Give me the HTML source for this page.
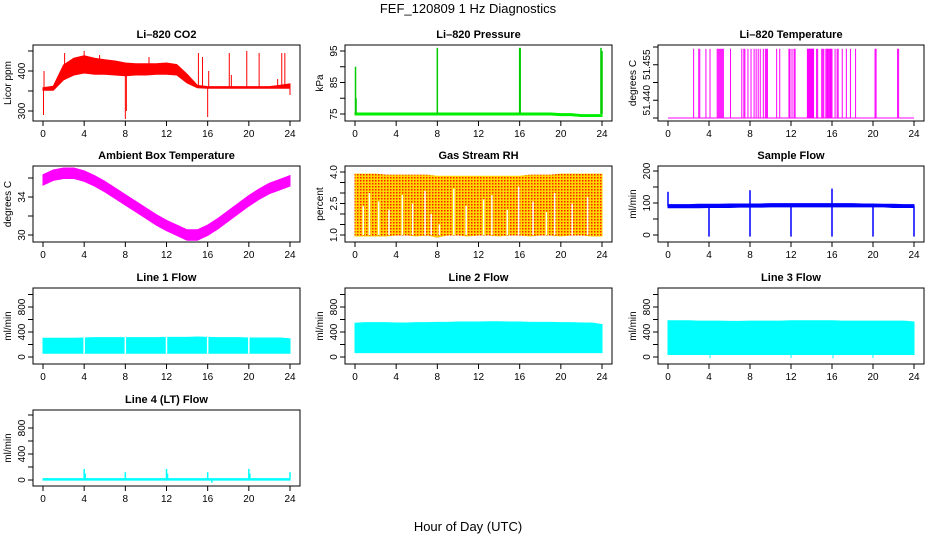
<!DOCTYPE html>
<html><head><meta charset="utf-8"><style>
html,body{margin:0;padding:0;background:#fff;}
svg{display:block;font-family:"Liberation Sans",sans-serif;}
</style></head><body>
<svg id="chart" width="936" height="540" viewBox="0 0 936 540">
<text x="468" y="13" text-anchor="middle" font-size="13">FEF_120809  1 Hz Diagnostics</text>
<text x="468" y="531" text-anchor="middle" font-size="13">Hour of Day (UTC)</text>
</svg>
<script>
// ---------- data ----------
const xTicks = [0,4,8,12,16,20,24];
const hours = [0,1,2,3,4,5,6,7,8,9,10,11,12,13,14,15,16,17,18,19,20,21,22,23,24];

const co2Low  = [352,352,378,390,395,392,392,390,388,390,390,392,392,390,370,358,357,357,357,357,357,357,357,357,357];
const co2High = [358,362,415,432,438,432,428,425,420,418,418,418,420,416,392,364,361,361,361,361,361,361,361,364,368];
const co2SpikeX = [0.05,0.1,2.1,4,5.5,8,8.1,10.3,15.1,15.5,16,16.1,18.1,18.3,19.8,21,22.8,23.2,23.5,24];
const co2SpikeY = [290,400,445,450,440,280,300,435,445,435,285,400,445,390,450,445,380,445,445,340];

const presBase = [75,75,75,75,75,75,75,75,75,75,75,75,75,75,75,75,75,75,75,75,74.8,74.8,74.5,74.5,74.5];
const presSpikeX = [0.05,0.1,8,16,16.05,23.9,24];
const presSpikeY = [90,80,96,96,96,96,95];

const tempBase = 51.44;
const tempSpikeX = [2.5,3.0,3.1,3.7,4.1,4.8,4.9,5.0,5.1,5.2,5.3,5.4,6.1,7.2,7.4,7.5,7.8,8.1,8.4,8.6,8.8,9.0,9.3,9.5,9.6,9.7,10.6,10.9,11.8,11.9,12.1,12.3,12.4,13.6,13.65,13.7,13.75,13.8,13.85,13.9,13.95,14.0,14.05,14.1,14.15,14.2,14.5,14.6,15.0,15.1,15.2,15.4,15.5,15.55,15.6,15.7,15.8,15.85,15.9,16.0,16.3,16.5,16.6,17.0,17.4,17.8,18.3,20.2,20.3,22.4,22.5];
const tempSpikeY = 51.4595;

const ambMid = [35.8,36.3,36.5,36.5,36.2,35.7,35.1,34.4,33.7,33.0,32.3,31.6,31.0,30.5,30.0,30.0,30.5,31.2,32.0,32.8,33.6,34.3,34.9,35.3,35.7];
const ambHalf = 0.55;

const rhTop = [3.9,3.9,3.9,3.85,3.85,3.85,3.85,3.85,3.8,3.8,3.8,3.8,3.8,3.8,3.8,3.8,3.8,3.85,3.85,3.85,3.9,3.9,3.9,3.9,3.9];
const rhBot = [0.95,0.95,0.95,0.95,1.0,1.0,0.95,1.0,0.9,1.0,1.0,0.95,1.0,1.0,0.95,1.0,1.0,0.95,1.0,1.0,0.95,1.0,1.0,0.95,0.95];
const rhGapX = [0.8,1.4,2.3,3.3,4.6,5.6,6.8,7.4,8.2,9.6,10.8,12.5,13.3,14.8,15.9,17.3,18.6,19.4,21.1,22.6];
const rhGapY = [2.4,3.0,2.6,2.2,2.9,2.5,3.1,2.0,1.5,3.2,2.4,2.7,2.9,2.2,3.3,2.6,2.1,3.0,2.5,2.8];

const sfLow  = [85,85,85,85,86,86,86,87,87,87,88,88,88,88,88,88,88,88,88,88,88,88,86,86,86];
const sfHigh = [95,95,95,96,96,96,97,97,97,97,98,98,98,98,98,98,98,98,98,97,97,96,96,95,95];
const sfSpikeX = [0,4,8,8,12,16,16,20,24];
const sfSpikeY = [135,-5,140,-5,-5,145,-5,-5,-5];

const l1Low  = [60,60,60,60,60,60,60,60,60,60,60,60,60,60,60,60,60,60,60,60,60,60,60,60,60];
const l1High = [300,300,300,300,305,310,310,310,310,310,310,310,315,315,315,320,315,310,310,310,305,305,305,305,290];
const l2Low  = [70,70,70,70,70,70,70,70,70,70,70,70,70,70,70,70,70,70,70,70,70,70,70,70,70];
const l2High = [540,550,550,550,545,545,550,550,555,555,560,560,560,565,565,560,560,555,555,555,550,550,545,545,520];
const l3Low  = [40,40,40,40,40,40,40,40,40,40,40,40,40,40,40,40,40,40,40,40,40,40,40,40,40];
const l3High = [580,580,580,575,575,575,570,570,575,575,575,575,580,580,580,580,580,575,575,575,575,575,575,575,560];
const l3SpikeX = [4.1,12.0,16.1,20.0];
const l3SpikeY = [-20,-15,-20,-15];
const gapX = [4,8,12,16,20];

const l4Base = 10;
const l4SpikeX = [4,4.1,8,12,12.1,16,16.4,20,20.1,24];
const l4SpikeY = [170,100,120,170,100,120,-40,170,100,120];

// ---------- drawing ----------
const NS = "http://www.w3.org/2000/svg";
const svg = document.getElementById('chart');
function mk(tag, attrs, parent){ const e=document.createElementNS(NS,tag); for(const k in attrs) e.setAttribute(k,attrs[k]); (parent||svg).appendChild(e); return e; }

const colL=[33,345,658], colR=[300,612,924];
const rowT=[45,166,288,410], rowB=[121,242,364,486];

function panel(name, title, ylab, c, r, refA, refB, yTicks, yLabels){
  const g = mk('g',{});
  
  
  const x0=colL[c], x1=colR[c], y0=rowT[r], y1=rowB[r];
  const xs = h => x0+10 + h/24*(x1-x0-20);
  const ys = v => refA[1] + (v-refA[0])*(refB[1]-refA[1])/(refB[0]-refA[0]);
  const t = mk('text',{x:(x0+x1)/2,y:y0-7,'text-anchor':'middle','font-size':11,'font-weight':'bold'},g);
  t.textContent=title;
  
  
  const plot = mk('g',{},g);
  
  
  const ax = () => {
    const xa = mk('g',{},g);
    
    
    mk('line',{x1:xs(0),x2:xs(24),y1:y1,y2:y1,stroke:'#000'},xa);
    xTicks.forEach(h=>{
      mk('line',{x1:xs(h),x2:xs(h),y1:y1,y2:y1+5,stroke:'#000'},xa);
      const tl=mk('text',{x:xs(h),y:y1+16,'text-anchor':'middle','font-size':10},xa); tl.textContent=h;
    });
    const ya = mk('g',{},g);
    
    
    yTicks.forEach((v,i)=>{
      mk('line',{x1:x0-5,x2:x0,y1:ys(v),y2:ys(v),stroke:'#000'},ya);
      if(yLabels[i]){ const tl=mk('text',{x:x0-8,y:ys(v),'text-anchor':'middle','font-size':10,transform:`rotate(-90 ${x0-8} ${ys(v)})`},ya); tl.textContent=yLabels[i]; }
    });
    const yt=mk('text',{x:x0-22,y:(y0+y1)/2,'text-anchor':'middle','font-size':10,transform:`rotate(-90 ${x0-22} ${(y0+y1)/2})`},ya);
    yt.textContent=ylab;
    
    
    mk('rect',{x:x0,y:y0,width:x1-x0,height:y1-y0,fill:'none',stroke:'#000'},g);
  };
  return {plot,xs,ys,ax};
}
function band(p, lo, hi, color){
  let pts=hours.map((h,i)=>p.xs(h)+','+p.ys(hi[i]));
  pts=pts.concat(hours.slice().reverse().map((h,j)=>{const i=hours.length-1-j;return p.xs(h)+','+p.ys(lo[i]);}));
  const e=mk('polygon',{points:pts.join(' '),fill:color,stroke:color,'stroke-width':1},p.plot);
  
  
}
function spikes(p, xsA, ysA, base, color, w){
  xsA.forEach((h,i)=>{
    const b = Array.isArray(base)? base[Math.round(h)] : base;
    const yv = Array.isArray(ysA)? ysA[i] : ysA;
    const e=mk('line',{x1:p.xs(h),x2:p.xs(h),y1:p.ys(b),y2:p.ys(yv),stroke:color,'stroke-width':w||1},p.plot);
    
    
  });
}
function gaps(p, lo, hi){
  gapX.forEach(h=>{
    const e=mk('line',{x1:p.xs(h),x2:p.xs(h),y1:p.ys(lo),y2:p.ys(hi),stroke:'#fff','stroke-width':1.5},p.plot);
    
    
  });
}

// CO2
let p=panel('co2-panel','Li\u2013820 CO2','Licor ppm',0,0,[300,111],[400,71],[300,350,400,450],['300','','400','']);
band(p,co2Low,co2High,'#ff0000'); spikes(p,co2SpikeX,co2SpikeY,co2Low,'#ff0000'); p.ax();
// Pressure
p=panel('pressure-panel','Li\u2013820 Pressure','kPa',1,0,[75,114],[95,51],[75,80,85,90,95],['75','','85','','95']);
band(p,presBase.map(v=>v-0.3),presBase.map(v=>v+0.3),'#00ee00'); spikes(p,presSpikeX,presSpikeY,75,'#00cc00',1.5); p.ax();
// Temperature
p=panel('li820-temp-panel','Li\u2013820 Temperature','degrees C',2,0,[51.44,118],[51.46,47],[51.44,51.445,51.45,51.455,51.46],['','51.440','','51.455','']);
mk('line',{x1:p.xs(0),x2:p.xs(24),y1:p.ys(tempBase),y2:p.ys(tempBase),stroke:'#ff00ff'},p.plot);
spikes(p,tempSpikeX,tempSpikeY,tempBase,'#ff00ff'); p.ax();
// Ambient
p=panel('ambient-temp-panel','Ambient Box Temperature','degrees C',0,1,[30,235],[34,197],[30,32,34,36],['30','','34','']);
band(p,ambMid.map(v=>v-ambHalf),ambMid.map(v=>v+ambHalf),'#ff00ff'); p.ax();
// RH
p=panel('rh-panel','Gas Stream RH','percent',1,1,[1,235],[4,172],[1,1.5,2,2.5,3,3.5,4],['1.0','','','2.5','','','4.0']);
const defs=mk('defs',{});
const pat=mk('pattern',{id:'rhpat',width:3,height:3,patternUnits:'userSpaceOnUse'},defs);
mk('rect',{width:3,height:3,fill:'#ffd700'},pat); mk('rect',{width:1.5,height:1.5,fill:'#ff2000'},pat);
band(p,rhBot,rhTop,'url(#rhpat)');
rhGapX.forEach((h,i)=>{ const e=mk('line',{x1:p.xs(h),x2:p.xs(h),y1:p.ys(rhGapY[i]),y2:p.ys(1.0),stroke:'#fff','stroke-width':1.5},p.plot);
    });
p.ax();
// Sample flow
p=panel('sample-flow-panel','Sample Flow','ml/min',2,1,[0,235],[200,171],[0,50,100,150,200],['0','','100','','200']);
band(p,sfLow,sfHigh,'#0000ff'); spikes(p,sfSpikeX,sfSpikeY,90,'#0000ff',1.5); p.ax();
// Line flows
const lt=[0,200,400,600,800,1000], ll=['0','','400','','800',''];
p=panel('line1-flow-panel','Line 1 Flow','ml/min',0,2,[0,357],[800,307],lt,ll);
band(p,l1Low,l1High,'#00ffff'); gaps(p,55,330); p.ax();
p=panel('line2-flow-panel','Line 2 Flow','ml/min',1,2,[0,357],[800,307],lt,ll);
band(p,l2Low,l2High,'#00ffff'); p.ax();
p=panel('line3-flow-panel','Line 3 Flow','ml/min',2,2,[0,357],[800,307],lt,ll);
band(p,l3Low,l3High,'#00ffff'); spikes(p,l3SpikeX,l3SpikeY,40,'#00ffff'); p.ax();
p=panel('line4-flow-panel','Line 4 (LT) Flow','ml/min',0,3,[0,480],[800,428],lt,ll);
band(p,hours.map(()=>l4Base-12),hours.map(()=>l4Base+12),'#00ffff'); spikes(p,l4SpikeX,l4SpikeY,l4Base,'#00ffff',1.5); p.ax();
</script>
</body></html>
